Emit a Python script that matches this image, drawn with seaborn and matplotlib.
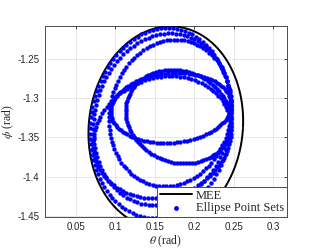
import numpy as np
import pandas as pd
import matplotlib
matplotlib.use("Agg")
import matplotlib.pyplot as plt
import seaborn as sns

# ellipse point sets:
# x = cx + ax*cos(t) + sx*sin(t),  y = cy + by*sin(t)
set_cx = [0.1575, 0.1595, 0.1695, 0.1800, 0.1705, 0.1595]
set_cy = [-1.3315, -1.3270, -1.3190, -1.3235, -1.3125, -1.3495]
set_ax = [0.0891, 0.0869, 0.0772, 0.0665, 0.0761, 0.0869]
set_sx = [0.0085, 0.0100, 0.0070, -0.0080, 0.0075, 0.0105]
set_by = [0.1205, 0.1090, 0.0930, 0.0595, 0.0445, 0.0775]
n_points = 110

# minimum enclosing ellipse (MEE)
mee_cx, mee_cy = 0.164, -1.337
mee_ax, mee_sx, mee_by = 0.0978, 0.0060, 0.128

xticks = [0.05, 0.1, 0.15, 0.2, 0.25, 0.3]
yticks = [-1.45, -1.4, -1.35, -1.3, -1.25]

# build tables
t = np.linspace(0, 2 * np.pi, n_points, endpoint=False)
rows = []
for i in range(len(set_cx)):
    px = set_cx[i] + set_ax[i] * np.cos(t) + set_sx[i] * np.sin(t)
    py = set_cy[i] + set_by[i] * np.sin(t)
    rows.append(pd.DataFrame({"theta": px, "phi": py, "set": i}))
pts = pd.concat(rows, ignore_index=True)

tm = np.linspace(0, 2 * np.pi, 400)
mee = pd.DataFrame({
    "theta": mee_cx + mee_ax * np.cos(tm) + mee_sx * np.sin(tm),
    "phi": mee_cy + mee_by * np.sin(tm),
})

sns.set_style("white")
plt.rcParams["font.family"] = ["Liberation Sans", "DejaVu Sans"]
plt.rcParams["mathtext.fontset"] = "stix"

fig = plt.figure(figsize=(3.17, 2.52), dpi=100)
ax = fig.add_axes([0.142, 0.140, 0.762, 0.757])

sns.lineplot(data=mee, x="theta", y="phi", sort=False, color="black",
             linewidth=1.4, ax=ax, label="MEE", zorder=3)
sns.scatterplot(data=pts, x="theta", y="phi", color="blue", s=10,
                linewidth=0, ax=ax, label="Ellipse Point Sets", zorder=4)

ax.set_xlim(0.011, 0.317)
ax.set_ylim(-1.4505, -1.2085)
ax.set_xticks(xticks)
ax.set_xticklabels(["0.05", "0.1", "0.15", "0.2", "0.25", "0.3"])
ax.set_yticks(yticks)
ax.set_yticklabels(["-1.45", "-1.4", "-1.35", "-1.3", "-1.25"])
ax.grid(True, color="#e3e3e3", linewidth=0.6)
ax.set_axisbelow(True)
ax.tick_params(direction="in", length=2.5, width=0.6, labelsize=7,
               colors="#262626", top=True, right=True, pad=4)
for s in ax.spines.values():
    s.set_visible(True)
    s.set_color("#4d4d4d")
    s.set_linewidth(0.7)

ax.set_xlabel(r"$\theta$ (rad)", family="Liberation Serif", fontsize=8.5,
              color="#262626", labelpad=1)
ax.set_ylabel(r"$\phi$ (rad)", family="Liberation Serif", fontsize=8.5,
              color="#262626", labelpad=1)

leg = ax.legend(loc="lower right", borderaxespad=0, fancybox=False,
                framealpha=1, edgecolor="#4d4d4d", handlelength=2.6,
                handletextpad=0.3, borderpad=0.2, labelspacing=0.05,
                markerscale=1.1,
                prop={"family": "Liberation Serif", "size": 9})
leg.get_frame().set_linewidth(0.7)
leg.set_zorder(10)

fig.savefig("out.png", dpi=100)
